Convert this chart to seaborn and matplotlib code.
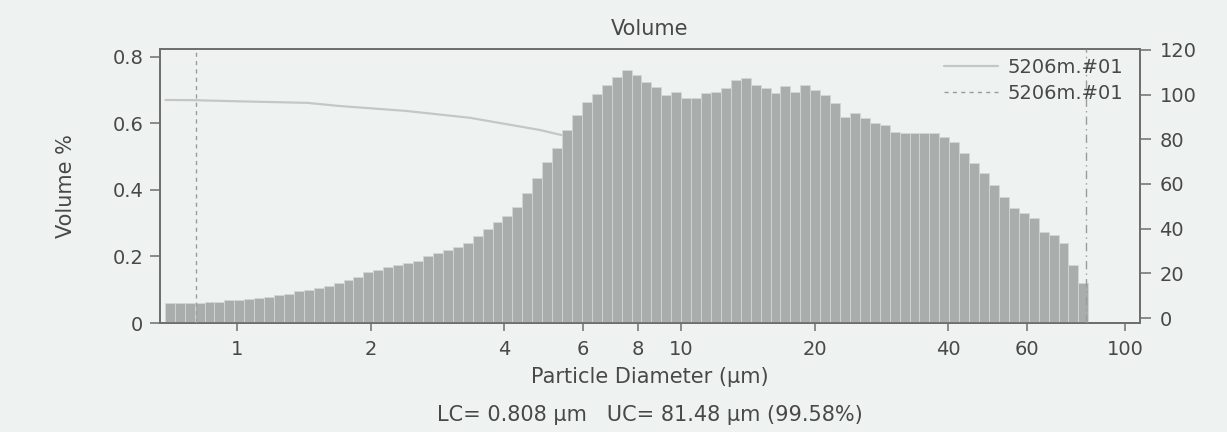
import numpy as np
import pandas as pd
import matplotlib
matplotlib.use("Agg")
import matplotlib.pyplot as plt
import seaborn as sns

# Differential volume distribution, one value per channel (Volume %)
volume_pct = [
    0.061, 0.061, 0.061, 0.061, 0.062, 0.063, 0.069, 0.070, 0.073, 0.075,
    0.078, 0.085, 0.088, 0.095, 0.099, 0.104, 0.112, 0.120, 0.130, 0.138,
    0.153, 0.160, 0.168, 0.174, 0.180, 0.186, 0.200, 0.210, 0.220, 0.230,
    0.242, 0.262, 0.284, 0.304, 0.322, 0.350, 0.390, 0.436, 0.484, 0.526,
    0.580, 0.626, 0.665, 0.690, 0.716, 0.740, 0.761, 0.746, 0.725, 0.710,
    0.686, 0.695, 0.677, 0.677, 0.692, 0.695, 0.708, 0.730, 0.737, 0.715,
    0.707, 0.692, 0.712, 0.695, 0.716, 0.700, 0.686, 0.662, 0.620, 0.632,
    0.617, 0.600, 0.595, 0.574, 0.571, 0.571, 0.571, 0.571, 0.560, 0.545,
    0.510, 0.480, 0.450, 0.415, 0.380, 0.346, 0.330, 0.316, 0.274, 0.265,
    0.240, 0.174, 0.120,
]
# Geometric channel range of the analyser (µm)
channel_lo, channel_hi = 0.688, 82.6

# Cumulative curve (right axis, %)
cum_diam = [0.69, 0.80, 1.0, 1.44, 1.7, 2.4, 3.35, 4.8, 5.35, 6.0]
cum_pct = [97.6, 97.5, 97.0, 96.3, 94.9, 92.7, 89.6, 84.2, 82.0, 80.0]

lc_um, uc_um, uc_pct = 0.808, 81.48, 99.58
sample = "5206m.#01"

x_ticks = [1, 2, 4, 6, 8, 10, 20, 40, 60, 100]
left_ticks = [0, 0.2, 0.4, 0.6, 0.8]
left_tick_labels = ["0", "0.2", "0.4", "0.6", "0.8"]
right_ticks = [0, 20, 40, 60, 80, 100, 120]

BG = "#eef3f1"
TXT = "#484848"
SPINE = "#6e6e6e"
BAR = "#a9adab"
BAR_EDGE = "#d3d8d6"
CUM = "#c4c7c6"
VLINE = "#9a9c9b"

sns.set_style("white")
plt.rcParams["font.family"] = ["DejaVu Sans"]
plt.rcParams["text.color"] = TXT
plt.rcParams["axes.labelcolor"] = TXT
plt.rcParams["xtick.color"] = SPINE
plt.rcParams["ytick.color"] = SPINE
plt.rcParams["xtick.labelcolor"] = TXT
plt.rcParams["ytick.labelcolor"] = TXT

fig = plt.figure(figsize=(12.27, 4.32), dpi=100, facecolor=BG)
ax = fig.add_axes([0.1304, 0.2523, 0.7987, 0.6343])
ax2 = ax.twinx()
# bars must sit above the cumulative curve
ax.set_zorder(ax2.get_zorder() + 1)
ax.patch.set_visible(False)
ax2.patch.set_visible(True)
ax2.patch.set_facecolor(BG)

edges = np.geomspace(channel_lo, channel_hi, len(volume_pct) + 1)
dist = pd.DataFrame({
    "diameter": np.sqrt(edges[:-1] * edges[1:]),
    "volume": volume_pct,
})

# with log_scale the bin breaks are given in log10 units
sns.histplot(data=dist, x="diameter", weights="volume",
             bins=list(np.log10(edges)), log_scale=True,
             stat="count", element="bars", fill=True, color=BAR,
             edgecolor=BAR_EDGE, linewidth=0.6, alpha=1.0, ax=ax)

cum = pd.DataFrame({"diameter": cum_diam, "pct": cum_pct})
sns.lineplot(data=cum, x="diameter", y="pct", color=CUM, lw=1.6, ax=ax2,
             legend=False)

lc_line = ax.axvline(lc_um, color=VLINE, lw=1.0, ls=(0, (3, 3)), zorder=5)
ax.axvline(uc_um, color=VLINE, lw=1.0, ls=(0, (6, 3, 1, 3)), zorder=5)

ax.set_xlim(0.671, 108)
ax.set_ylim(0, 0.824)
ax2.set_ylim(-2.2, 120.4)

ax.set_xticks(x_ticks)
ax.set_xticklabels([str(t) for t in x_ticks])
ax.xaxis.set_minor_locator(matplotlib.ticker.NullLocator())
ax.set_yticks(left_ticks)
ax.set_yticklabels(left_tick_labels)
ax2.set_yticks(right_ticks)
ax2.set_yticklabels([str(t) for t in right_ticks])

ax.tick_params(axis="x", direction="out", length=6, width=1.1, pad=6,
               labelsize=14, bottom=True)
ax.tick_params(axis="y", direction="out", length=7, width=1.1, pad=5,
               labelsize=14, left=True)
ax2.tick_params(axis="y", direction="out", length=8, width=1.1, pad=6,
                labelsize=14, right=True)

for a in (ax, ax2):
    for s in a.spines.values():
        s.set_color(SPINE)
        s.set_linewidth(1.3)
        s.set_visible(True)

ax.set_title("Volume", fontsize=15, pad=10, color=TXT)
ax.set_xlabel("Particle Diameter (µm)", fontsize=15, labelpad=6)
ax.set_ylabel("Volume %", fontsize=15, labelpad=26)
ax2.set_ylabel("")

fig.text(0.5297, 0.039, f"LC= {lc_um} µm   UC= {uc_um} µm ({uc_pct}%)",
         ha="center", va="center", fontsize=15, color=TXT)

cum_handle = ax2.get_lines()[0]
leg = ax.legend([cum_handle, lc_line], [sample, sample], loc="upper right",
                bbox_to_anchor=(0.995, 1.01), frameon=False, fontsize=14,
                handlelength=2.8, handletextpad=0.5, labelspacing=0.35,
                borderaxespad=0.2)
for t in leg.get_texts():
    t.set_color(TXT)

fig.savefig("out.png", dpi=100, facecolor=BG)
